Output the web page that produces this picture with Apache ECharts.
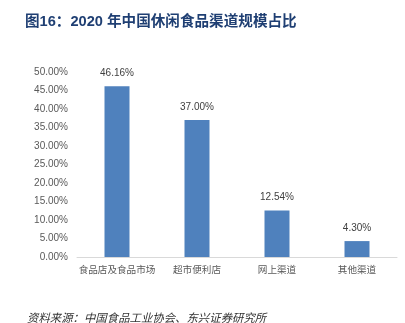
<!DOCTYPE html>
<html><head><meta charset="utf-8">
<script src="https://cdn.jsdelivr.net/npm/echarts@6/dist/echarts.min.js"></script>
<style>html,body{margin:0;padding:0;background:#fff}#c{width:405px;height:323px}</style>
</head><body><div id="c"></div>
<script>
const categories = ['食品店及食品市场', '超市便利店', '网上渠道', '其他渠道'];
const shares = [46.16, 37.00, 12.54, 4.30];
const yTicks = [0, 5, 10, 15, 20, 25, 30, 35, 40, 45, 50];

const chart = echarts.init(document.getElementById('c'));
chart.setOption({
  animation: false,
  backgroundColor: '#fff',
  title: [{
    text: '图16：2020 年中国休闲食品渠道规模占比',
    left: 20, top: 10,
    textStyle: {fontSize: 14.6, fontWeight: 'bold', color: '#1F3F73', fontFamily: 'Liberation Sans, Noto Sans CJK SC'}
  }, {
    text: '资料来源：中国食品工业协会、东兴证券研究所',
    left: 22, top: 307,
    textStyle: {fontSize: 11.4, fontWeight: 'normal', fontStyle: 'italic', color: '#333', fontFamily: 'Noto Sans CJK SC'}
  }],
  grid: {left: 77, right: 8, top: 72, bottom: 66},
  xAxis: {
    type: 'category', data: categories,
    axisLine: {lineStyle: {color: '#d9d9d9'}},
    axisTick: {show: false},
    axisLabel: {interval: 0, fontSize: 9.6, color: '#595959', margin: 8, fontFamily: 'Noto Sans CJK SC'}
  },
  yAxis: {
    type: 'value', min: yTicks[0], max: yTicks[yTicks.length - 1], interval: 5,
    axisLine: {show: false}, axisTick: {show: false}, splitLine: {show: false},
    axisLabel: {fontSize: 10, color: '#595959', margin: 9, fontFamily: 'Liberation Sans',
      formatter: v => v.toFixed(2) + '%'}
  },
  series: [{
    type: 'bar', data: shares, barWidth: 25,
    itemStyle: {color: '#4F81BD'},
    label: {show: true, position: 'top', distance: 8, fontSize: 10, color: '#404040',
      fontFamily: 'Liberation Sans', formatter: p => p.value.toFixed(2) + '%'}
  }]
});
</script></body></html>
